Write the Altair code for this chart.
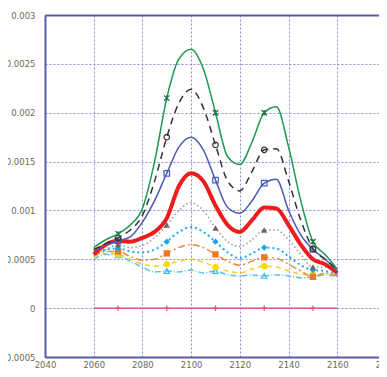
import altair as alt
import pandas as pd

years = [2060, 2065, 2070, 2075, 2080, 2085, 2090, 2095, 2100, 2105, 2110,
         2115, 2120, 2125, 2130, 2135, 2140, 2145, 2150, 2155, 2160]
marker_years = [2070, 2090, 2110, 2130, 2150]

green = [0.00062, 0.00070, 0.00076, 0.00085, 0.00102, 0.00150, 0.00215, 0.00255, 0.00265, 0.00245, 0.00200,
         0.00155, 0.00147, 0.00170, 0.00200, 0.00206, 0.00165, 0.00110, 0.00068, 0.00055, 0.00040]
black = [0.00060, 0.00066, 0.00072, 0.00080, 0.00095, 0.00130, 0.00175, 0.00210, 0.00224, 0.00205, 0.00167,
         0.00130, 0.00120, 0.00140, 0.00162, 0.00163, 0.00130, 0.00090, 0.00061, 0.00050, 0.00040]
blue = [0.00058, 0.00065, 0.00069, 0.00073, 0.00088, 0.00110, 0.00138, 0.00165, 0.00175, 0.00162, 0.00131,
        0.00103, 0.00097, 0.00110, 0.00128, 0.00132, 0.00100, 0.00075, 0.00060, 0.00050, 0.00038]
red = [0.00055, 0.00065, 0.00069, 0.00068, 0.00072, 0.00078, 0.00092, 0.00125, 0.00138, 0.00130, 0.00105,
       0.00085, 0.00078, 0.00090, 0.00103, 0.00102, 0.00085, 0.00065, 0.00050, 0.00045, 0.00036]
grey = [0.00055, 0.00060, 0.00065, 0.00062, 0.00064, 0.00072, 0.00085, 0.00100, 0.00108, 0.00100, 0.00082,
        0.00068, 0.00063, 0.00070, 0.00080, 0.00080, 0.00070, 0.00055, 0.00042, 0.00042, 0.00037]
skyblue = [0.00055, 0.00060, 0.00061, 0.00058, 0.00057, 0.00060, 0.00068, 0.00078, 0.00083, 0.00078, 0.00068,
           0.00057, 0.00051, 0.00056, 0.00062, 0.00061, 0.00053, 0.00044, 0.00039, 0.00038, 0.00034]
orange = [0.00053, 0.00058, 0.00058, 0.00053, 0.00049, 0.00050, 0.00056, 0.00062, 0.00065, 0.00062, 0.00055,
          0.00048, 0.00044, 0.00048, 0.00052, 0.00051, 0.00045, 0.00038, 0.00032, 0.00036, 0.00033]
yellow = [0.00052, 0.00056, 0.00055, 0.00050, 0.00045, 0.00043, 0.00045, 0.00048, 0.00050, 0.00047, 0.00042,
          0.00038, 0.00036, 0.00040, 0.00043, 0.00042, 0.00038, 0.00035, 0.00034, 0.00035, 0.00032]
cyan = [0.00050, 0.00055, 0.00054, 0.00048, 0.00042, 0.00037, 0.00038, 0.00037, 0.00039, 0.00036, 0.00038,
        0.00034, 0.00033, 0.00034, 0.00033, 0.00034, 0.00033, 0.00031, 0.00032, 0.00034, 0.00032]
pink = [0.0] * len(years)

x_ticks = [2040, 2060, 2080, 2100, 2120, 2140, 2160, 2180]
y_ticks = [-0.0005, 0, 0.0005, 0.001, 0.0015, 0.002, 0.0025, 0.003]

X_SHAPE = "M-1,-1L1,1M-1,1L1,-1M0,-1L0,1"
PLUS_SHAPE = "M-1,0L1,0M0,-1L0,1"

# name, values, line color, width, dash, marker shape, marker filled, marker color
series = [
    ("pink", pink, "#e8508a", 1.5, [], PLUS_SHAPE, False, "#e8508a"),
    ("cyan", cyan, "#55c4f0", 1.5, [6, 2, 1, 2], "triangle-up", False, "#3bb8f0"),
    ("yellow", yellow, "#f7d21c", 1.5, [5, 4], "circle", True, "#ffd800"),
    ("orange", orange, "#f08a40", 1.5, [7, 3, 2, 3], "square", True, "#f07820"),
    ("skyblue", skyblue, "#22aaee", 2, [2, 3], "diamond", True, "#1aa2ea"),
    ("grey", grey, "#999999", 1.5, [1.5, 2.5], "triangle-up", True, "#666666"),
    ("red", red, "#ee1c1c", 4, [], None, True, "#ee1c1c"),
    ("blue", blue, "#4a5ab4", 1.5, [], "square", False, "#4a5ab4"),
    ("black", black, "#333333", 1.5, [7, 5], "circle", False, "#333333"),
    ("green", green, "#1e9a50", 1.5, [], X_SHAPE, False, "#1e7a40"),
]

FRAME = "#5a5aaa"
xscale = alt.Scale(domain=[2040, 2180], nice=False, zero=False)
yscale = alt.Scale(domain=[-0.0005, 0.003], nice=False, zero=False)

xaxis = alt.Axis(values=x_ticks, title=None, format="d",
                 labelFontSize=8.5, labelColor="#6e6a55", grid=True,
                 gridColor="#8c8cd0", gridDash=[2, 2], gridWidth=1,
                 domainColor=FRAME, domainWidth=2, ticks=False,
                 labelPadding=3, labelFlush=False)
yaxis = alt.Axis(values=y_ticks, title=None, format="~g", labelFontSize=8.5,
                 labelColor="#6e6a55", grid=True, gridColor="#8c8cd0",
                 gridDash=[2, 2], gridWidth=1, domainColor=FRAME,
                 domainWidth=2, ticks=False, labelPadding=10, labelFlush=False)
xaxis_top = alt.Axis(orient="top", values=x_ticks, title=None, labels=False,
                     grid=False, ticks=False, domainColor=FRAME, domainWidth=2)
yaxis_right = alt.Axis(orient="right", values=y_ticks, title=None, labels=False,
                       grid=False, ticks=False, domainColor=FRAME, domainWidth=2)

X = alt.X("year:Q", scale=xscale, axis=xaxis)
Y = alt.Y("value:Q", scale=yscale, axis=yaxis)

layers = []
for name, vals, color, width, dash, shape, filled, mcolor in series:
    df = pd.DataFrame({"year": years, "value": vals})
    line_kwargs = dict(color=color, strokeWidth=width, interpolate="monotone")
    if dash:
        line_kwargs["strokeDash"] = dash
    layers.append(alt.Chart(df).mark_line(**line_kwargs).encode(x=X, y=Y))
    if shape is not None:
        mdf = df[df["year"].isin(marker_years)]
        if filled:
            pt = alt.Chart(mdf).mark_point(shape=shape, filled=True, color=mcolor,
                                           size=40, opacity=1)
        else:
            pt = alt.Chart(mdf).mark_point(shape=shape, filled=False, color=mcolor,
                                           size=30, strokeWidth=1.2, opacity=1)
        layers.append(pt.encode(x=X, y=Y))

main = alt.layer(*layers)

frame_df = pd.DataFrame({"year": years, "value": pink})
frame = alt.Chart(frame_df).mark_line(opacity=0).encode(
    x=alt.X("year:Q", scale=xscale, axis=xaxis_top),
    y=alt.Y("value:Q", scale=yscale, axis=yaxis_right),
)

chart = alt.layer(main, frame).resolve_axis(x="independent", y="independent").properties(
    width=341, height=342,
    autosize=alt.AutoSizeParams(type="none"),
    padding={"left": 37, "top": 7, "right": -7, "bottom": 12},
).configure(
    font="DejaVu Sans", background="white"
).configure_view(
    strokeWidth=0
)

chart.save("out.html", embed_options={"renderer": "svg", "actions": False})
